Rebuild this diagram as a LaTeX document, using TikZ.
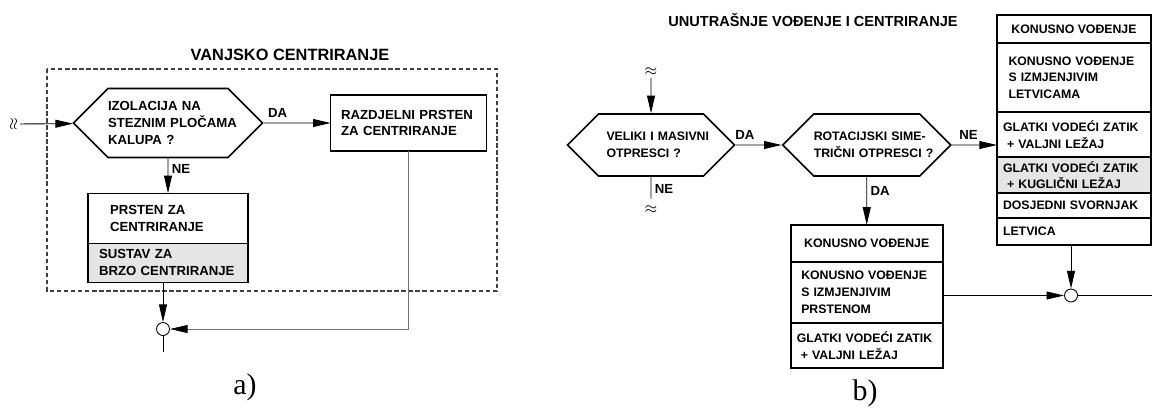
\documentclass[tikz,border=0pt]{standalone}
\usepackage{fontspec}
\setmainfont{Liberation Sans}
\newfontfamily\capfont{Liberation Serif}
\usetikzlibrary{shapes.symbols,arrows.meta,positioning}

\begin{document}
\begin{tikzpicture}[
  hexa/.style={signal, signal to=east and west, draw, line width=0.9pt,
               inner sep=0pt, align=left, font=\fontsize{7.5}{9.5}\selectfont\bfseries},
  box/.style={rectangle, draw, line width=0.9pt, inner sep=0pt, outer sep=0pt,
              align=left, font=\fontsize{7.5}{9.5}\selectfont\bfseries},
  cell/.style={box, font=\fontsize{7}{9.5}\selectfont\bfseries},
  lbl/.style={inner sep=1pt, font=\fontsize{7.5}{9}\selectfont\bfseries},
  junc/.style={circle, draw, fill=white, inner sep=0pt, minimum size=0.26cm, line width=0.5pt},
  brk/.style={inner sep=1pt, font=\fontsize{9}{10}\selectfont},
  partlbl/.style={font=\fontsize{17}{19}\selectfont\capfont},
  arr/.style={-{Triangle[length=10pt,width=4.5pt]}, line width=0.5pt},
  ln/.style={line width=0.5pt}
]
  \useasboundingbox (0,0) rectangle (23.04,-8.16);

  % a) outer centring
  \node[font=\fontsize{9.3}{11}\selectfont\bfseries] (T1) at (5.80,-1.10) {VANJSKO CENTRIRANJE};
  \draw[black!75, line width=0.6pt, dash pattern=on 2.5pt off 1.5pt] (0.94,-1.38) rectangle (9.94,-5.82);

  \node[hexa, minimum height=1.38cm, text width=2.4cm] (A) at (3.36,-2.46)
    {\mbox{IZOLACIJA NA}\\\mbox{STEZNIM PLOČAMA}\\\mbox{KALUPA ?}};
  \node[box, right=1.34cm of A, minimum width=3.12cm, minimum height=1.12cm, text width=2.7cm] (B)
    {RAZDJELNI PRSTEN\\ZA CENTRIRANJE};
  \node[box, below=0.70cm of A, minimum width=3.2cm, minimum height=1.0cm, text width=2.32cm] (C1)
    {PRSTEN ZA\\CENTRIRANJE};
  \node[box, below=0pt of C1, fill=black!10, minimum width=3.2cm, minimum height=0.78cm, text width=2.76cm] (C2)
    {SUSTAV ZA\\BRZO CENTRIRANJE};

  \node[brk, rotate=90] (S1) at (0.28,-2.48) {$\approx$};
  \node[junc] (J1) at (3.26,-6.58) {};
  \coordinate (O1) at (3.26,-7.04);
  \node[partlbl] (L1) at (4.90,-7.74) {a)};

  \draw[arr] (S1) -- (A);
  \draw[arr] (A) -- node[lbl, above=2pt, pos=0.21] {DA} (B);
  \draw[arr] (A) -- node[lbl, right=1pt, pos=0.3] {NE} (C1);
  \draw[arr] (C2.south -| J1) -- (J1);
  \draw[arr, draw=black!55, -{Triangle[length=10pt,width=4.5pt,color=black]}] (B) |- (J1);
  \draw[ln] (J1) -- (O1);

  % b) inner guiding and centring
  \node[font=\fontsize{8.3}{10}\selectfont\bfseries] (T2) at (16.26,-0.40) {UNUTRAŠNJE VOĐENJE I CENTRIRANJE};

  \node[hexa, minimum height=1.24cm, inner xsep=0.16cm, text width=1.78cm,
        font=\fontsize{7}{9.5}\selectfont\bfseries] (D) at (13.02,-2.90)
    {\mbox{VELIKI I MASIVNI}\\\mbox{OTPRESCI ?}};
  \node[hexa, right=0.92cm of D, minimum height=1.24cm, text width=2.12cm,
        font=\fontsize{7}{9.5}\selectfont\bfseries] (E)
    {\mbox{ROTACIJSKI SIME-}\\\mbox{TRIČNI OTPRESCI ?}};

  \node[cell, below=0.96cm of E, minimum width=3.04cm, minimum height=0.74cm, align=center] (F1)
    {KONUSNO VOĐENJE};
  \node[cell, below=0pt of F1, minimum width=3.04cm, minimum height=1.22cm, text width=2.62cm] (F2)
    {KONUSNO VOĐENJE\\S IZMJENJIVIM\\PRSTENOM};
  \node[cell, below=0pt of F2, minimum width=3.04cm, minimum height=0.90cm, text width=2.8cm] (F3)
    {GLATKI VODEĆI ZATIK\\\ + VALJNI LEŽAJ};

  \node[cell, minimum width=3.08cm, minimum height=0.56cm, align=center] (G1) at (21.48,-0.58)
    {KONUSNO VOĐENJE};
  \node[cell, below=0pt of G1, minimum width=3.08cm, minimum height=1.38cm, text width=2.62cm] (G2)
    {KONUSNO VOĐENJE\\S IZMJENJIVIM\\LETVICAMA};
  \node[cell, below=0pt of G2, minimum width=3.08cm, minimum height=0.90cm, text width=2.84cm] (G3)
    {GLATKI VODEĆI ZATIK\\\ + VALJNI LEŽAJ};
  \node[cell, below=0pt of G3, fill=black!10, minimum width=3.08cm, minimum height=0.72cm, text width=2.84cm] (G4)
    {GLATKI VODEĆI ZATIK\\\ + KUGLIČNI LEŽAJ};
  \node[cell, below=0pt of G4, minimum width=3.08cm, minimum height=0.50cm, text width=2.84cm] (G5)
    {DOSJEDNI SVORNJAK};
  \node[cell, below=0pt of G5, minimum width=3.08cm, minimum height=0.54cm, text width=2.84cm] (G6)
    {LETVICA};

  \node[brk] (S2) at (13.02,-1.44) {$\approx$};
  \node[brk] (S3) at (13.02,-4.20) {$\approx$};
  \node[junc] (J2) at (21.42,-5.91) {};
  \coordinate (O2) at (23.04,-5.91);
  \node[partlbl] (L2) at (17.30,-7.86) {b)};

  \draw[arr] (S2) -- (D);
  \draw[ln, shorten >=3pt] (D) -- node[lbl, right=1pt, pos=0.43] {NE} (S3);
  \draw[arr] (D) -- node[lbl, above=2pt, pos=0.2] {DA} (E);
  \draw[arr] (E) -- node[lbl, above=2pt, pos=0.37] {NE} (E.east -| G3.west);
  \draw[arr] (E) -- node[lbl, right=1pt, pos=0.3] {DA} (F1);
  \draw[arr] (F2.east |- J2) -- (J2);
  \draw[arr] (G6.south -| J2) -- (J2);
  \draw[ln] (J2) -- (O2);
\end{tikzpicture}
\end{document}
